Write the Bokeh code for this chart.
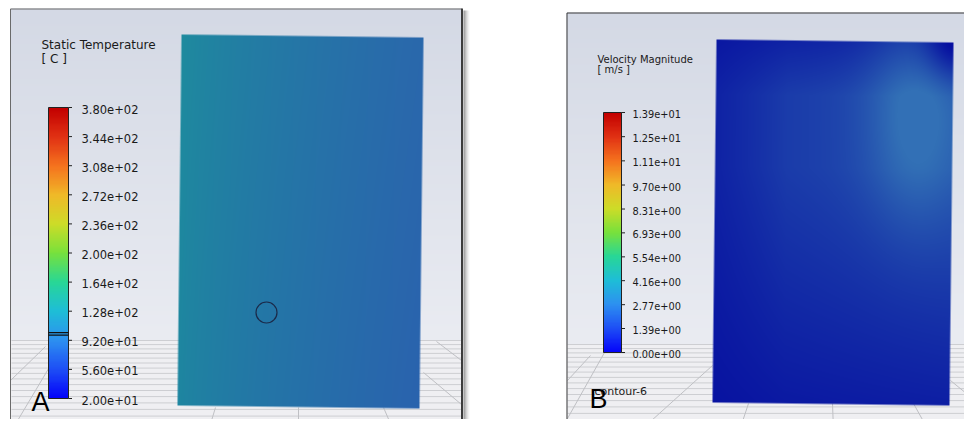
import numpy as np
from bokeh.plotting import figure
from bokeh.models import Range1d, LinearColorMapper, ColumnDataSource
from bokeh.core.properties import value
from bokeh.embed import file_html
from bokeh.resources import INLINE

# ---------------- data ----------------
temp_title = "Static Temperature"
temp_unit = "[ C ]"
temp_ticks = [20, 56, 92, 128, 164, 200, 236, 272, 308, 344, 380]
temp_labels = ["2.00e+01", "5.60e+01", "9.20e+01", "1.28e+02", "1.64e+02", "2.00e+02",
               "2.36e+02", "2.72e+02", "3.08e+02", "3.44e+02", "3.80e+02"]
temp_marker = [98.5, 101.5]

vel_title = "Velocity Magnitude"
vel_unit = "[ m/s ]"
vel_ticks = [0.0, 1.39, 2.77, 4.16, 5.54, 6.93, 8.31, 9.70, 11.1, 12.5, 13.9]
vel_labels = ["0.00e+00", "1.39e+00", "2.77e+00", "4.16e+00", "5.54e+00", "6.93e+00",
              "8.31e+00", "9.70e+00", "1.11e+01", "1.25e+01", "1.39e+01"]

panel_letters = ["A", "B"]
contour_name = "contour-6"

# ---------------- palette (blue-cyan-green-yellow-red) ----------------
pal_t = [0.0, 0.1, 0.2, 0.3, 0.4, 0.5, 0.6, 0.7, 0.8, 0.9, 1.0]
pal_rgb = [(5, 5, 250), (30, 80, 245), (45, 145, 240), (30, 190, 215), (40, 215, 150),
           (120, 225, 60), (205, 220, 40), (240, 185, 40), (245, 115, 30), (225, 50, 20),
           (195, 0, 0)]
tt = np.linspace(0, 1, 256)
pal_arr = np.array(pal_rgb, dtype=float)
palette = ["#%02x%02x%02x" % tuple(int(round(np.interp(t, pal_t, pal_arr[:, k]))) for k in range(3))
           for t in tt]

# ---------------- geometry helpers (picture pixels -> data) ----------------
W, H = 964, 419
def Y(y):
    return H - y

def rgba_pack(arr):
    h, w, _ = arr.shape
    out = np.empty((h, w), dtype=np.uint32)
    out.view(np.uint8).reshape((h, w, 4))[:] = arr
    return out

p = figure(width=W, height=H, x_range=Range1d(0, W), y_range=Range1d(0, H),
           output_backend="svg", toolbar_location=None, min_border=0,
           x_axis_type=None, y_axis_type=None)
p.grid.visible = False
p.outline_line_color = None
p.background_fill_color = "white"
p.border_fill_color = "white"

# colorbar ranges
tb_top, tb_bot = 107.0, 398.0
ts = (temp_ticks[-1] - temp_ticks[0]) / (tb_bot - tb_top)
vb_top, vb_bot = 112.0, 352.0
vs = (vel_ticks[-1] - vel_ticks[0]) / (vb_bot - vb_top)
p.extra_y_ranges = {
    "temp": Range1d(temp_ticks[0] - (H - tb_bot) * ts, temp_ticks[0] + tb_bot * ts),
    "vel": Range1d(vel_ticks[0] - (H - vb_bot) * vs, vel_ticks[0] + vb_bot * vs),
}

# ---------------- panel backgrounds ----------------
def panel_bg(x0, x1, ytop, horizon):
    ys = np.arange(H - 1, ytop - 1, -1) + 0.5   # bottom row first
    w = x1 - x0
    arr = np.zeros((len(ys), w, 4), dtype=np.uint8)
    top = np.array([212, 217, 229.0]); hz = np.array([234, 236, 242.0]); fl = np.array([239, 239, 242.0])
    for i, yy in enumerate(ys):
        if yy < horizon:
            t = (yy - ytop) / (horizon - ytop)
            c = top + (hz - top) * t
        else:
            c = fl
        arr[i, :, :3] = c.astype(np.uint8)
    arr[:, :, 3] = 255
    return rgba_pack(arr), x0, 0, w, H - ytop

for (x0, x1, yt, hz) in [(10, 461, 8, 340), (566, W, 12, 344)]:
    img, xx, yy, dw, dh = panel_bg(x0, x1, yt, hz)
    p.image_rgba(image=[img], x=xx, y=yy, dw=dw, dh=dh)

# floor lines (perspective spacing)
def floor_lines(x0, x1, horizon):
    ks = np.arange(0, 20)
    ys = horizon + 4.0 * ks + 0.1 * ks ** 2
    ys = ys[ys < H]
    p.segment(x0=[x0] * len(ys), x1=[x1] * len(ys), y0=[Y(v) for v in ys], y1=[Y(v) for v in ys],
              line_color="#cdced2", line_width=1)
floor_lines(11, 461, 340)
floor_lines(567, W, 344)

diag = [((10, 432), (60, 348)), ((10, 380), (45, 346)), ((423, 372), (461, 404)), ((436, 341), (461, 360)),
        ((215, 407), (208, 430)), ((298, 407), (298, 430)), ((383, 407), (393, 430)),
        ((567, 418), (604, 352)), ((640, 430), (712, 365)), ((567, 380), (590, 355)),
        ((748, 403), (739, 430)), ((832, 403), (833, 430)), ((913, 403), (928, 430)),
        ((950, 380), (972, 398))]
p.segment(x0=[a[0][0] for a in diag], y0=[Y(a[0][1]) for a in diag],
          x1=[a[1][0] for a in diag], y1=[Y(a[1][1]) for a in diag],
          line_color="#bfc0c4", line_width=1)

# ---------------- plates ----------------
def quad_image(tl, tr, bl, br, colorfn):
    xmin = int(np.floor(min(tl[0], bl[0]))); xmax = int(np.ceil(max(tr[0], br[0])))
    ymin = int(np.floor(min(tl[1], tr[1]))); ymax = int(np.ceil(max(bl[1], br[1])))
    xs = np.arange(xmin, xmax) + 0.5
    ys = np.arange(ymax - 1, ymin - 1, -1) + 0.5
    XX, YY = np.meshgrid(xs, ys)
    xl = tl[0] + (bl[0] - tl[0]) * (YY - tl[1]) / (bl[1] - tl[1])
    xr = tr[0] + (br[0] - tr[0]) * (YY - tr[1]) / (br[1] - tr[1])
    yt = tl[1] + (tr[1] - tl[1]) * (XX - tl[0]) / (tr[0] - tl[0])
    yb = bl[1] + (br[1] - bl[1]) * (XX - bl[0]) / (br[0] - bl[0])
    a = np.clip(np.minimum.reduce([XX - xl, xr - XX, YY - yt, yb - YY]) + 0.5, 0, 1)
    u = np.clip((XX - xl) / (xr - xl), 0, 1)
    v = np.clip((YY - yt) / (yb - yt), 0, 1)
    rgb = colorfn(u, v)
    arr = np.zeros(XX.shape + (4,), dtype=np.uint8)
    arr[..., :3] = np.clip(rgb, 0, 255).astype(np.uint8)
    arr[..., 3] = (a * 255).astype(np.uint8)
    return rgba_pack(arr), xmin, Y(ymax), xmax - xmin, ymax - ymin

def temp_color(u, v):
    s = u ** 0.7
    r = 30 + 12 * s
    g = 140 - 36 * s - 5 * v
    b = 158 + 14 * s + 2 * v
    return np.stack([r, g, b], axis=-1)

def vel_color(u, v):
    dark = np.array([6, 14, 160.0]); light = np.array([50, 112, 182.0])
    sv = np.where(v < 0.35, 1.0, 1.0 - 0.75 * (v - 0.35) / 0.65)
    w = (0.38 + 0.3 * u) * sv
    w = w * (0.45 + 0.55 * np.clip(v / 0.15, 0, 1))
    w *= (0.55 + 0.45 * np.clip(u / 0.3, 0, 1))
    w += 0.45 * np.exp(-(((u - 0.84) / 0.2) ** 2 + ((v - 0.2) / 0.3) ** 2))
    w -= 0.5 * np.exp(-(((u - 1.0) / 0.12) ** 2 + ((v - 0.0) / 0.1) ** 2))
    w = np.clip(w, 0, 1)[..., None]
    return dark + (light - dark) * w

img, xx, yy, dw, dh = quad_image((181, 34), (423, 37), (177, 405), (419, 408), temp_color)
p.image_rgba(image=[img], x=xx, y=yy, dw=dw, dh=dh)
img, xx, yy, dw, dh = quad_image((716, 39), (953, 42), (712, 402), (949, 405), vel_color)
p.image_rgba(image=[img], x=xx, y=yy, dw=dw, dh=dh)

# probe circle
p.scatter(x=[266], y=[Y(312)], size=21, marker="circle", fill_color=None,
          line_color="#1b2a4a", line_width=1.2)

# ---------------- panel frames ----------------
p.segment(x0=[10, 10], y0=[Y(8.5), Y(8.5)], x1=[461, 10], y1=[Y(8.5), 0],
          line_color="#6a6a6a", line_width=1)
p.segment(x0=[461.5], y0=[Y(8)], x1=[461.5], y1=[0], line_color="#3c3c3c", line_width=2)
for i, al in enumerate([0.45, 0.32, 0.22, 0.14, 0.08, 0.04]):
    p.segment(x0=[463.5 + i], y0=[Y(10)], x1=[463.5 + i], y1=[0], line_color="black",
              line_alpha=al, line_width=1)
p.segment(x0=[566.5, 566.5], y0=[Y(12.5), Y(12.5)], x1=[W, 566.5], y1=[Y(12.5), 0],
          line_color="#3a3a3a", line_width=1)

# ---------------- colorbars ----------------
def colorbar(x0, x1, ticks, labels, rname, marker, fs, lx):
    lo, hi = ticks[0], ticks[-1]
    col = np.linspace(lo, hi, 300).reshape(300, 1)
    cm = LinearColorMapper(palette=palette, low=lo, high=hi)
    p.image(image=[col], x=x0, y=lo, dw=x1 - x0, dh=hi - lo, color_mapper=cm, y_range_name=rname)
    p.quad(left=[x0], right=[x1], bottom=[lo], top=[hi], fill_color=None, line_color="#222222",
           line_width=1, y_range_name=rname)
    p.segment(x0=[x1] * len(ticks), x1=[x1 + 3.5] * len(ticks), y0=ticks, y1=ticks,
              line_color="#222222", line_width=1, y_range_name=rname)
    if marker:
        p.segment(x0=[x0] * len(marker), x1=[x1] * len(marker), y0=marker, y1=marker,
                  line_color="#111111", line_width=1.3, y_range_name=rname)
    src = ColumnDataSource(dict(x=[lx] * len(ticks), y=ticks, t=labels))
    p.text(x="x", y="y", text="t", source=src, text_font=value("DejaVu Sans"),
           text_font_size=fs, text_color="#1a1a1a", text_baseline="middle", text_align="left",
           y_offset=1.5, y_range_name=rname)

colorbar(48, 68, temp_ticks, temp_labels, "temp", temp_marker, "11.5px", 81)
colorbar(603, 621, vel_ticks, vel_labels, "vel", None, "9.8px", 632)

# titles (all vertically centred)
def label(xs, ys, texts, font, size, color="#1a1a1a"):
    p.text(x=xs, y=[Y(v) for v in ys], text=texts, text_font=value(font), text_font_size=size,
           text_color=color, text_baseline="middle", text_align="left")

label([41, 41], [44.5, 58], [temp_title, temp_unit], "DejaVu Sans", "12px")
label([597, 597], [58.5, 69], [vel_title, vel_unit], "DejaVu Sans", "10px")
label([594], [391], [contour_name], "DejaVu Sans", "11px")
label([31], [401.5], [panel_letters[0]], "Liberation Sans", "27px", "black")
label([589], [398], [panel_letters[1]], "Liberation Sans", "27px", "black")

open("out.html", "w").write(file_html(p, INLINE))
